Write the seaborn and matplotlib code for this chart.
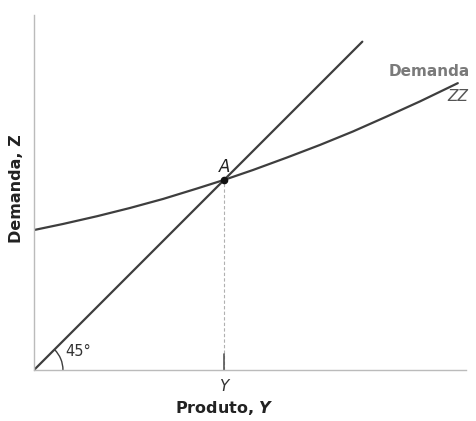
import numpy as np
import pandas as pd
import matplotlib
matplotlib.use("Agg")
import matplotlib.pyplot as plt
from matplotlib.patches import Arc
import seaborn as sb

# values (same units on both axes)
zz_y = [0.0, 0.67, 1.46, 2.22, 2.99, 3.77, 4.40, 5.07, 5.86, 6.62, 7.38, 8.17, 8.94, 9.81]  # produto, Y
zz_z = [3.24, 3.38, 3.56, 3.75, 3.96, 4.20, 4.40, 4.63, 4.92, 5.21, 5.52, 5.87, 6.22, 6.64]  # demanda, Z
line45_y = [0.0, 7.6]
eq_y = 4.40   # ponto A
eq_z = 4.40

sb.set_style("white")
plt.rcParams["font.family"] = ["DejaVu Sans"]
plt.rcParams["mathtext.fontset"] = "custom"
plt.rcParams["mathtext.it"] = "DejaVu Sans:italic:bold"

fig = plt.figure(figsize=(4.76, 4.21), dpi=100)
ax = fig.add_axes([34 / 476, 51 / 421, 432 / 476, 355 / 421])

line_col = "#3e3e3e"
zz_df = pd.DataFrame({"Y": zz_y, "Z": zz_z})
l45_df = pd.DataFrame({"Y": line45_y, "Z": line45_y})
sb.lineplot(data=l45_df, x="Y", y="Z", ax=ax, color=line_col, lw=1.6)
sb.lineplot(data=zz_df, x="Y", y="Z", ax=ax, color=line_col, lw=1.6)

# equilibrium
ax.plot([eq_y, eq_y], [0, eq_z], color="#b0b0b0", lw=0.8, ls=(0, (3, 2)))
ax.plot([eq_y, eq_y], [0, 0.38], color="#555555", lw=1.2)
ax.scatter([eq_y], [eq_z], s=20, color="#111111", zorder=5)
ax.text(eq_y, eq_z + 0.1, "A", style="italic", fontsize=12, color="#222222",
        ha="center", va="bottom")
ax.text(eq_y, -0.2, "Y", style="italic", fontsize=11, color="#333333",
        ha="center", va="top")

# 45 graus
ax.add_patch(Arc((0, 0), 1.34, 1.34, theta1=0, theta2=45, color=line_col, lw=1.0))
ax.text(0.72, 0.42, "45°", fontsize=10.5, color="#333333", va="center")

ax.text(8.2, 6.92, "Demanda", fontsize=11, fontweight="bold", color="#7a7a7a",
        va="center", clip_on=False)
ax.text(9.56, 6.32, "ZZ", fontsize=11, style="italic", color="#555555", va="center")

ax.set_xlim(0, 10)
ax.set_ylim(0, 355 / 43.2)
ax.set_xticks([])
ax.set_yticks([])
ax.set_xlabel("Produto, $Y$", fontsize=11.5, fontweight="bold", color="#222222")
ax.set_ylabel("Demanda, Z", fontsize=11.5, fontweight="bold", color="#222222")
ax.xaxis.set_label_coords(190 / 432, -38 / 355)
ax.xaxis.label.set_va("center")
ax.yaxis.set_label_coords(-17 / 432, 181 / 355)
ax.yaxis.label.set_va("center")
for s in ["top", "right"]:
    ax.spines[s].set_visible(False)
for s in ["left", "bottom"]:
    ax.spines[s].set_color("#bbbbbb")
    ax.spines[s].set_linewidth(1.0)

fig.savefig("out.png", dpi=100)
